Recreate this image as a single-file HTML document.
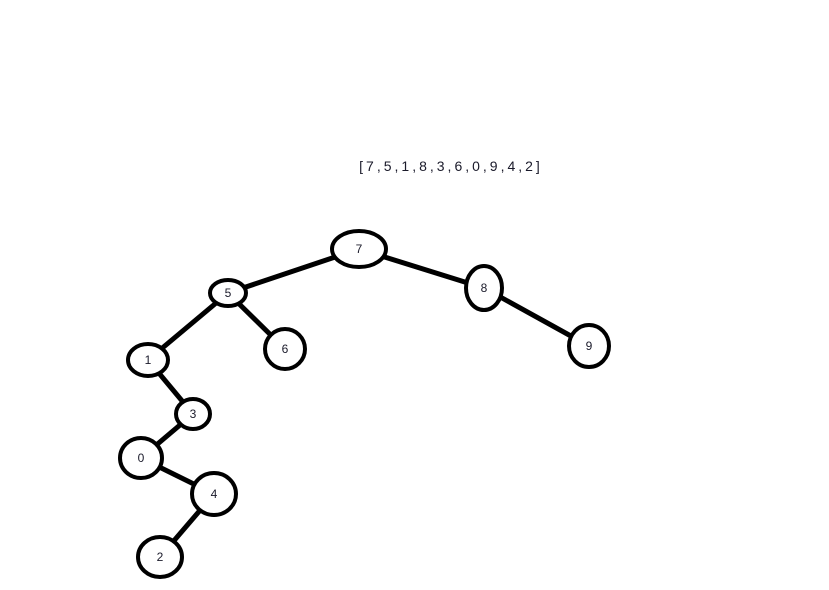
<!DOCTYPE html>
<html><head><meta charset="utf-8"><style>
html,body{margin:0;padding:0;background:#fff;}
svg{display:block;}
text{font-family:"Liberation Sans",sans-serif;}
</style></head><body>
<svg id="chart" width="829" height="590" xmlns="http://www.w3.org/2000/svg">
<rect width="829" height="590" fill="#fff"/>
<text x="451" y="171" text-anchor="middle" font-size="14" letter-spacing="3" fill="#1a1a2a">[7,5,1,8,3,6,0,9,4,2]</text>
<g id="edges"></g>
<g id="nodes"></g>
</svg>
<script>
const nodeLabels = ["7","5","8","9","6","1","3","0","4","2"];
const nodeX = [359,228,484,589,285,148,193,141,214,160];
const nodeY = [249,293,288,346,349,360,414,458,494,557];
const nodeRx = [27,18,18,20,20,20,17,21,22,22];
const nodeRy = [18,13,22,21,20,16,15,20,21,20];
const edgeFrom = [0,0,1,1,2,5,6,7,8];
const edgeTo = [1,2,5,4,3,6,7,8,9];
const NS = "http://www.w3.org/2000/svg";
const eg = document.getElementById("edges"), ng = document.getElementById("nodes");
for (let i = 0; i < edgeFrom.length; i++) {
  const a = edgeFrom[i], b = edgeTo[i];
  const l = document.createElementNS(NS, "line");
  l.setAttribute("x1", nodeX[a]); l.setAttribute("y1", nodeY[a]);
  l.setAttribute("x2", nodeX[b]); l.setAttribute("y2", nodeY[b]);
  l.setAttribute("stroke", "#000"); l.setAttribute("stroke-width", "5");
  
  
  eg.appendChild(l);
}
for (let i = 0; i < nodeLabels.length; i++) {
  const g = document.createElementNS(NS, "g");
  
  
  const e = document.createElementNS(NS, "ellipse");
  e.setAttribute("cx", nodeX[i]); e.setAttribute("cy", nodeY[i]);
  e.setAttribute("rx", nodeRx[i]); e.setAttribute("ry", nodeRy[i]);
  e.setAttribute("fill", "#fff"); e.setAttribute("stroke", "#000"); e.setAttribute("stroke-width", "4");
  const t = document.createElementNS(NS, "text");
  t.setAttribute("x", nodeX[i]); t.setAttribute("y", nodeY[i] + 4);
  t.setAttribute("text-anchor", "middle"); t.setAttribute("font-size", "12");
  t.setAttribute("fill", "#1a1a2a");
  t.textContent = nodeLabels[i];
  g.appendChild(e); g.appendChild(t);
  ng.appendChild(g);
}
</script>
</body></html>
